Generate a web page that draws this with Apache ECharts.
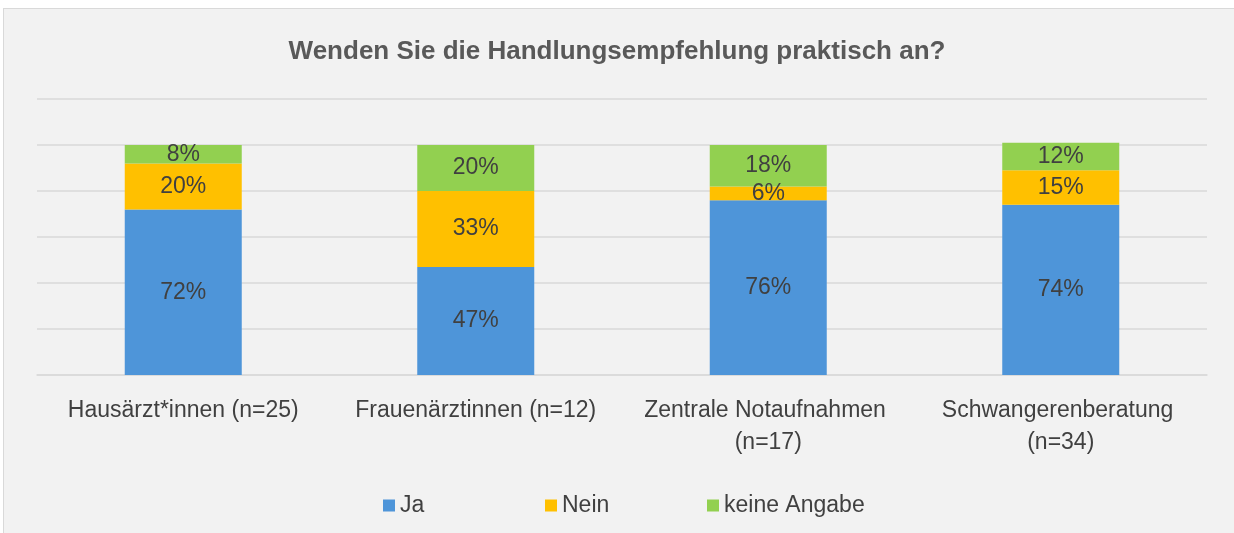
<!DOCTYPE html>
<html>
<head>
<meta charset="utf-8">
<script src="https://cdn.jsdelivr.net/npm/echarts@6/dist/echarts.min.js"></script>
<style>
  html, body { margin: 0; padding: 0; background: #ffffff; }
  #frame {
    position: absolute; left: 3px; top: 8px; width: 1231px; height: 525px;
    background: #f2f2f2; border-left: 1px solid #d9d9d9; border-top: 1px solid #d9d9d9;
  }
  #chart { position: absolute; left: 0; top: 0; width: 1234px; height: 533px; }
</style>
</head>
<body>
<div id="frame"></div>
<div id="chart"></div>
<script>
const categories = ['Hausärzt*innen (n=25)', 'Frauenärztinnen (n=12)', 'Zentrale Notaufnahmen (n=17)', 'Schwangerenberatung (n=34)']
const seriesNames = ['Ja', 'Nein', 'keine Angabe']
const ja = [72, 47, 76, 74]
const nein = [20, 33, 6, 15]
const keineAngabe = [8, 20, 18, 12]

const font = '"Liberation Sans", Arial, sans-serif'
const chart = echarts.init(document.getElementById('chart'))

function barSeries(name, data, color) {
  return {
    name,
    type: 'bar',
    stack: 'total',
    data,
    barWidth: '40%',
    itemStyle: { color },
    label: {
      show: true,
      position: 'inside',
      formatter: '{c}%',
      color: '#404040',
      fontSize: 23,
      fontFamily: font
    }
  }
}

// Excel verteilt die Legende in gleich breite Felder
const legendLefts = [378, 540, 702]
const legends = seriesNames.map((name, i) => ({
  left: legendLefts[i],
  top: 489,
  itemWidth: 12,
  itemHeight: 12,
  itemGap: 6,
  icon: 'rect',
  textStyle: { color: '#404040', fontSize: 23, fontFamily: font },
  data: [name]
}))

chart.setOption({
  backgroundColor: 'transparent',
  animation: false,
  title: {
    text: 'Wenden Sie die Handlungsempfehlung praktisch an?',
    left: 'center',
    top: 34,
    textStyle: { color: '#595959', fontSize: 26, fontWeight: 'bold', fontFamily: font }
  },
  legend: legends,
  grid: { left: 37, right: 27, top: 99, bottom: 158 },
  xAxis: {
    type: 'category',
    data: categories,
    axisTick: { show: false },
    axisLine: { lineStyle: { color: '#d9d9d9', width: 1.5 } },
    axisLabel: {
      color: '#404040',
      fontSize: 23,
      fontFamily: font,
      margin: 20,
      lineHeight: 32,
      width: 285,
      overflow: 'break',
      interval: 0
    }
  },
  yAxis: {
    type: 'value',
    min: 0,
    max: 120,
    interval: 20,
    axisLabel: { show: false },
    axisLine: { show: false },
    axisTick: { show: false },
    splitLine: { lineStyle: { color: '#d9d9d9', width: 1.5 } }
  },
  series: [
    barSeries('Ja', ja, '#4e95d9'),
    barSeries('Nein', nein, '#ffc000'),
    barSeries('keine Angabe', keineAngabe, '#92d050')
  ]
})
</script>
</body>
</html>
